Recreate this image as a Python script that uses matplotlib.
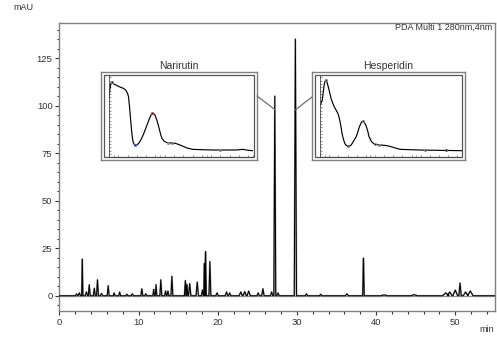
import numpy as np
import matplotlib.pyplot as plt
from matplotlib.patches import Rectangle, ConnectionPatch

plt.rcParams['font.family'] = ['Liberation Sans', 'DejaVu Sans']

# chromatogram peaks: retention time (min), height (mAU), half width (min)
peak_t = [2.15, 2.5, 2.88, 3.4, 3.76, 4.4, 4.8, 5.3, 6.15, 6.9, 7.6, 8.5, 9.2,
          10.4, 10.9, 11.9, 12.2, 12.8, 13.4, 13.7, 14.2, 15.9, 16.1, 16.45,
          17.4, 18.05, 18.3, 18.45, 19.0, 19.9, 21.1, 21.5, 22.9, 23.4, 23.9,
          25.1, 25.7, 26.8, 27.2, 27.6, 29.8, 31.2, 33.0, 36.3, 38.4, 41.0,
          44.8, 48.8, 49.3, 50.0, 50.6, 51.3, 51.9]
peak_h = [1.0, 1.5, 19.3, 2.0, 5.8, 4.0, 8.4, 1.2, 5.3, 1.5, 2.0, 0.8, 1.0,
          3.7, 1.0, 3.4, 5.8, 8.4, 2.5, 2.5, 10.2, 8.0, 6.0, 6.4,
          7.2, 3.0, 17.0, 23.3, 18.0, 1.5, 2.0, 1.5, 2.0, 2.2, 2.5,
          1.5, 3.7, 2.0, 105.0, 1.5, 135.0, 1.0, 0.8, 1.0, 19.8, 0.5,
          0.6, 1.5, 2.0, 3.0, 6.7, 2.0, 2.5]
peak_w = [0.15, 0.15, 0.08, 0.15, 0.12, 0.12, 0.12, 0.15, 0.12, 0.12, 0.12, 0.15, 0.15,
          0.12, 0.15, 0.1, 0.1, 0.12, 0.12, 0.12, 0.12, 0.12, 0.12, 0.15,
          0.15, 0.12, 0.08, 0.1, 0.12, 0.15, 0.15, 0.15, 0.2, 0.2, 0.2,
          0.15, 0.15, 0.15, 0.12, 0.15, 0.14, 0.15, 0.15, 0.2, 0.1, 0.4,
          0.4, 0.4, 0.3, 0.3, 0.15, 0.3, 0.35]

# UV spectra shown in the insets (nm, relative absorbance)
nar_nm = [190, 192, 194, 197, 200, 205, 212, 221, 226, 230, 232, 234, 236, 238,
          240, 242, 245, 249, 254, 260, 265, 271, 276, 280, 283, 286, 289, 293,
          297, 301, 304, 309, 315, 324, 333, 341, 348, 358, 370, 390, 413, 440,
          464, 478, 490, 500]
nar_abs = [157, 185, 202, 207, 200, 197, 192, 187, 182, 172, 162, 135, 102, 70,
           42, 26, 17, 16, 22, 36, 52, 74, 92, 106, 112, 111, 107, 92,
           72, 50, 37, 28, 24, 23, 22, 18, 14, 8, 4, 3, 2, 2,
           2, 4, 1, 0]
hes_nm = [190, 193, 195, 197, 199, 201, 203, 205, 208, 211, 214, 218, 221, 225,
          229, 231, 233, 236, 238, 241, 244, 247, 251, 254, 258, 263, 269, 273,
          276, 280, 283, 286, 290, 294, 297, 302, 308, 315, 322, 331, 340, 352,
          365, 385, 408, 450, 500]
hes_abs = [137, 145, 152, 175, 197, 208, 212, 206, 192, 175, 157, 142, 132, 122,
           112, 103, 92, 70, 52, 35, 22, 16, 14, 14, 17, 28, 42, 58,
           72, 84, 89, 86, 77, 60, 42, 28, 20, 18, 17, 16, 14, 9,
           4, 3, 2, 1, 0]

# build the trace polyline from the peak list
tr_t = [0.0]
tr_y = [0.0]
for t, h, w in sorted(zip(peak_t, peak_h, peak_w)):
    tr_t += [t - w, t, t + w]
    tr_y += [0.0, h, 0.0]
tr_t.append(55.0)
tr_y.append(0.0)

fig = plt.figure(figsize=(4.97, 3.37), dpi=100)
ax = fig.add_axes([0.1197, 0.0772, 0.876, 0.8546])

frame = '#808080'
txt = '#333333'
ax.axhline(0, color='#909090', lw=0.9, zorder=1)
ax.plot(tr_t, tr_y, color='#a8a8a8', lw=1.3, zorder=2)
ax.plot(tr_t, tr_y, color='black', lw=0.75, zorder=3)

ax.set_xlim(0, 55)
ax.set_ylim(-8, 143.5)
ax.set_xticks([0, 10, 20, 30, 40, 50])
ax.set_xticks(np.arange(0, 55, 2), minor=True)
ax.set_yticks([0, 25, 50, 75, 100, 125])
ax.set_yticks(np.arange(-5, 144, 5), minor=True)
for s in ax.spines.values():
    s.set_color(frame)
    s.set_linewidth(1.0)
ax.tick_params(which='major', length=3, width=0.8, color=txt, labelsize=6.8,
               labelcolor=txt, pad=2)
ax.tick_params(which='minor', length=1.8, width=0.8, color=txt)

fig.text(0.047, 0.978, 'mAU', ha='center', va='center', fontsize=6.5, color=txt)
fig.text(0.98, 0.021, 'min', ha='center', va='center', fontsize=6.5, color=txt)
fig.text(0.99, 0.92, 'PDA Multi 1 280nm,4nm', ha='right', va='center',
         fontsize=6.5, color=txt)


def inset(box, spec_pos, nm, ab, title, marks):
    bx = fig.add_axes(box)
    bx.set_xticks([])
    bx.set_yticks([])
    for s in bx.spines.values():
        s.set_color(frame)
        s.set_linewidth(1.0)
    bx.add_patch(Rectangle((0.019, 0.034), 0.962, 0.932, transform=bx.transAxes,
                           fill=False, ec='#555555', lw=0.9))
    bx.set_title(title, fontsize=7.5, color=txt, pad=2)
    sx = fig.add_axes(spec_pos)
    sx.patch.set_alpha(0)
    sx.plot(nm, ab, color='black', lw=0.85)
    for m_nm, m_ab, c in marks:
        sx.plot(m_nm, m_ab, 'o', ms=1.6, mfc='none', mec=c, mew=0.6)
    sx.set_xlim(190, 500)
    sx.set_ylim(-19, 227)
    sx.spines['top'].set_visible(False)
    sx.spines['right'].set_visible(False)
    for k in ('left', 'bottom'):
        sx.spines[k].set_color('#444444')
        sx.spines[k].set_linewidth(0.6)
    sx.set_xticks(np.arange(200, 501, 100))
    sx.set_xticks(np.arange(190, 501, 20), minor=True)
    sx.set_yticks(np.arange(0, 227, 50))
    sx.set_yticks(np.arange(-10, 227, 10), minor=True)
    sx.tick_params(which='both', direction='in', length=1.2, width=0.5,
                   color='#666666', labelleft=False, labelbottom=False)
    return bx


nar_box = inset([0.2032, 0.5252, 0.3139, 0.2611], [0.2193, 0.5341, 0.2897, 0.2433],
                nar_nm, nar_abs, 'Narirutin',
                [(197, 207, '#888888'), (245, 17, '#5060c0'), (283, 112, '#d04040'),
                 (318, 24, '#888888'), (326, 23, '#888888'), (430, 2, '#888888')])
hes_box = inset([0.6278, 0.5252, 0.3078, 0.2611], [0.6439, 0.5341, 0.2857, 0.2433],
                hes_nm, hes_abs, 'Hesperidin',
                [(203, 212, '#888888'), (251, 14, '#5060c0'), (283, 89, '#888888'),
                 (310, 20, '#888888'), (318, 18, '#888888'), (420, 2, '#888888'),
                 (465, 1, '#5060c0')])

fig.add_artist(ConnectionPatch((1.0, 0.727), (27.2, 98.0), coordsA=nar_box.transAxes,
                               coordsB=ax.transData, color='#707070', lw=0.9))
fig.add_artist(ConnectionPatch((0.0, 0.716), (29.8, 97.8), coordsA=hes_box.transAxes,
                               coordsB=ax.transData, color='#707070', lw=0.9))

fig.savefig('out.png', dpi=100)
